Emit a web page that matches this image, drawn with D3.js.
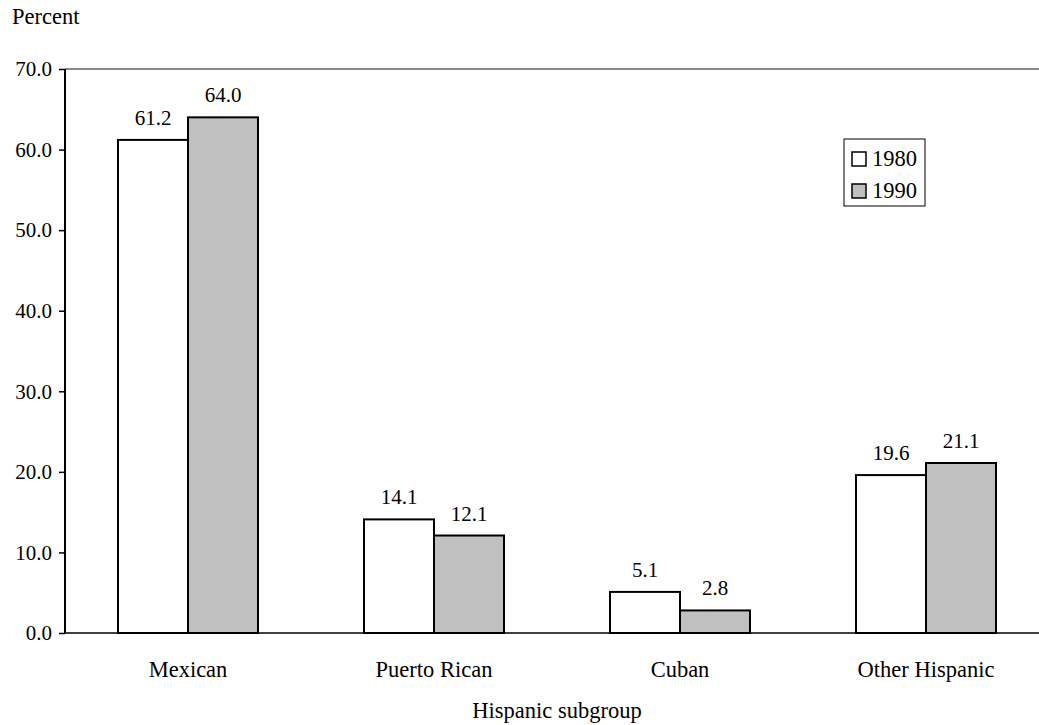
<!DOCTYPE html>
<html>
<head>
<meta charset="utf-8">
<script src="https://cdn.jsdelivr.net/npm/d3@7"></script>
<style>
  html, body { margin: 0; padding: 0; background: #fff; }
  svg { display: block; }
</style>
</head>
<body>
<svg id="chart" width="1039" height="725"></svg>
<script>
// Hispanic population by subgroup, share of total (percent)
const categories = ["Mexican", "Puerto Rican", "Cuban", "Other Hispanic"];
const years = ["1980", "1990"];
const values1980 = [61.2, 14.1, 5.1, 19.6];
const values1990 = [64.0, 12.1, 2.8, 21.1];
const yTicks = [0, 10, 20, 30, 40, 50, 60, 70];
const yTitle = "Percent";
const xTitle = "Hispanic subgroup";
const seriesFill = ["#ffffff", "#c0c0c0"];

const FONT = "Liberation Serif";

const svg = d3.select("#chart").style("font-family", FONT);
const margin = { left: 65, top: 69, right: -10, bottom: 92 };
const width = 1039, height = 725;
const plotW = width - margin.left - margin.right;
const plotH = height - margin.top - margin.bottom;

const x = d3.scaleBand().domain(categories).range([0, plotW]).paddingInner(0).paddingOuter(0);
const sub = d3.scaleBand().domain(years).range([0, 140]);
const y = d3.scaleLinear().domain([0, 70]).range([plotH, 0]);

const g = svg.append("g").attr("transform", `translate(${margin.left},${margin.top})`);

// plot area top border
g.append("line")
  .attr("x1", 0).attr("x2", plotW)
  .attr("y1", y(70)).attr("y2", y(70))
  .attr("stroke", "#888").attr("stroke-width", 2);

// bars
const rows = categories.map((c, i) => ({ cat: c, vals: [values1980[i], values1990[i]] }));
const groups = g.selectAll("g.grp").data(rows).join("g")
  .attr("class", "grp")
  .attr("transform", d => `translate(${x(d.cat) + (x.bandwidth() - 140) / 2},0)`);

groups.selectAll("rect").data(d => d.vals.map((v, j) => ({ v, yr: years[j], j }))).join("rect")
  .attr("x", d => sub(d.yr))
  .attr("width", sub.bandwidth())
  .attr("y", d => y(d.v))
  .attr("height", d => y(0) - y(d.v))
  .attr("fill", d => seriesFill[d.j])
  .attr("stroke", "#000")
  .attr("stroke-width", 2);

groups.selectAll("text.val").data(d => d.vals.map((v, j) => ({ v, yr: years[j] }))).join("text")
  .attr("class", "val")
  .attr("x", d => sub(d.yr) + sub.bandwidth() / 2)
  .attr("y", d => y(d.v) - 15)
  .attr("text-anchor", "middle")
  .style("font-family", FONT)
  .style("font-size", "21px")
  .text(d => d.v.toFixed(1));

// y axis
const yAxis = d3.axisLeft(y).tickValues(yTicks).tickSize(6).tickPadding(7)
  .tickFormat(d => d.toFixed(1));
const ya = g.append("g").call(yAxis).attr("font-family", null);
ya.select(".domain").attr("stroke", "#000").attr("stroke-width", 2).attr("d", `M0,${y(70)}V${y(0)}`);
ya.selectAll(".tick line").attr("stroke", "#000").attr("stroke-width", 1.5);
ya.selectAll(".tick text")
  .style("font-size", "21px")
  .style("font-family", FONT)
  .attr("fill", "#000")
  .attr("dy", "0.32em");

// x axis baseline and category labels
g.append("line")
  .attr("x1", 0).attr("x2", plotW)
  .attr("y1", y(0)).attr("y2", y(0))
  .attr("stroke", "#000").attr("stroke-width", 1.5);

g.selectAll("text.cat").data(categories).join("text")
  .attr("class", "cat")
  .attr("x", d => x(d) + x.bandwidth() / 2)
  .attr("y", y(0) + 44)
  .attr("text-anchor", "middle")
  .style("font-family", FONT)
  .style("font-size", "22.5px")
  .text(d => d);

// axis titles
svg.append("text").attr("x", 12).attr("y", 24)
  .style("font-family", FONT).style("font-size", "22.5px").text(yTitle);
svg.append("text")
  .attr("x", margin.left + plotW / 2).attr("y", 718)
  .attr("text-anchor", "middle")
  .style("font-family", FONT).style("font-size", "22.5px").text(xTitle);

// legend
const lg = svg.append("g").attr("transform", "translate(844,139)");
lg.append("rect").attr("width", 81).attr("height", 67)
  .attr("fill", "#fff").attr("stroke", "#000").attr("stroke-width", 1);
years.forEach((yr, i) => {
  const row = lg.append("g").attr("transform", `translate(8,${13 + i * 32})`);
  row.append("rect").attr("width", 14).attr("height", 14)
    .attr("fill", seriesFill[i]).attr("stroke", "#000").attr("stroke-width", 1.5);
  row.append("text").attr("x", 20).attr("y", 14)
    .style("font-family", FONT).style("font-size", "22.5px").text(yr);
});
</script>
</body>
</html>
